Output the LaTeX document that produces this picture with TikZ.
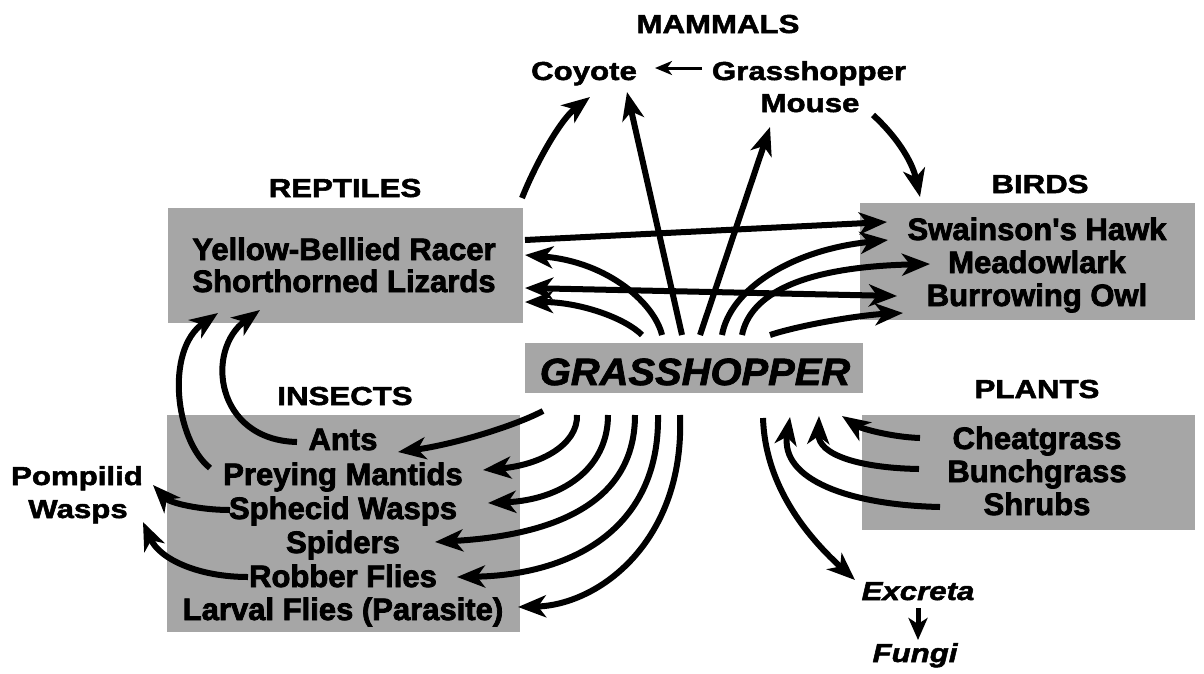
\documentclass[tikz,border=0pt]{standalone}
\usepackage{fontspec}
\setmainfont{Liberation Sans}
\newfontfamily\hdfont[FakeStretch=1.2,FakeBold=2]{Liberation Sans}
\newfontfamily\bxfont[FakeBold=2.5]{Liberation Sans}
\newfontfamily\ghfont[FakeStretch=1.05,FakeBold=2]{Liberation Sans}
\usetikzlibrary{arrows.meta}
\begin{document}
\begin{tikzpicture}[x=1pt,y=-1pt,
  hd/.style={font=\hdfont\bfseries\fontsize{26}{30}\selectfont, inner sep=0pt, anchor=base},
  hdi/.style={font=\hdfont\bfseries\itshape\fontsize{26}{30}\selectfont, inner sep=0pt, anchor=base},
  bx/.style={font=\bxfont\bfseries\fontsize{31}{34}\selectfont, inner sep=0pt, anchor=base},
  ghs/.style={font=\ghfont\bfseries\itshape\fontsize{38}{40}\selectfont, inner sep=0pt, anchor=base},
  shadebox/.style={fill=black!35, draw=none},
  tipbig/.tip={Stealth[length=28pt,width=22pt,inset=8pt]},
  arr/.style={line width=6pt, -tipbig},
  darr/.style={line width=6pt, tipbig-tipbig},
  sarr/.style={line width=3pt, -{Stealth[length=17pt,width=14pt,inset=5pt]}},
  varr/.style={line width=5pt, -{Stealth[length=22pt,width=19pt,inset=6pt]}},
]
\useasboundingbox (0,0) rectangle (1204,673);
\fill[white] (0,0) rectangle (1204,673);

% shaded boxes
\path[shadebox] (168,208) rectangle (523,323);
\path[shadebox] (860,203) rectangle (1195,320);
\path[shadebox] (525,343) rectangle (863,393);
\path[shadebox] (167,415) rectangle (520,632);
\path[shadebox] (862,415) rectangle (1195,530);

% headings and labels
\node[hd] (mammals) at (718,33) {MAMMALS};
\node[hd] (coyote) at (584,80) {Coyote};
\node[hd] (ghm1) at (809,80) {Grasshopper};
\node[hd] (ghm2) at (810,112) {Mouse};
\node[hd] (reptiles) at (345,197) {REPTILES};
\node[hd] (birds) at (1040,193) {BIRDS};
\node[hd] (insects) at (345,405) {INSECTS};
\node[hd] (plants) at (1037,398) {PLANTS};
\node[hd] (pomp1) at (77,485) {Pompilid};
\node[hd] (pomp2) at (78,518) {Wasps};
\node[hdi] (excreta) at (918,600) {Excreta};
\node[hdi] (fungi) at (915,662) {Fungi};

\node[bx] (racer) at (344,260) {Yellow-Bellied Racer};
\node[bx] (lizards) at (344,292) {Shorthorned Lizards};
\node[bx] (hawk) at (1037,240) {Swainson's Hawk};
\node[bx] (meadow) at (1037,273) {Meadowlark};
\node[bx] (owl) at (1037,306) {Burrowing Owl};
\node[ghs] (gh) at (695,385) {GRASSHOPPER};
\node[bx] (ants) at (343,450) {Ants};
\node[bx] (mantids) at (343,485) {Preying Mantids};
\node[bx] (sphecid) at (343,519) {Sphecid Wasps};
\node[bx] (spiders) at (343,553) {Spiders};
\node[bx] (robber) at (343,587) {Robber Flies};
\node[bx] (larval) at (343,620) {Larval Flies (Parasite)};
\node[bx] (cheat) at (1037,449) {Cheatgrass};
\node[bx] (bunch) at (1037,482) {Bunchgrass};
\node[bx] (shrubs) at (1037,515) {Shrubs};

% ports
\coordinate (gt1) at (642,335);
\coordinate (gt2) at (662,335);
\coordinate (gt3) at (682,335);
\coordinate (gt4) at (700,335);
\coordinate (gt5) at (722,335);
\coordinate (gt6) at (742,335);
\coordinate (gt7) at (770,335);
\coordinate (gb1) at (543,411);
\coordinate (gb2) at (577,415);
\coordinate (gb3) at (608,415);
\coordinate (gb4) at (635,415);
\coordinate (gb5) at (658,415);
\coordinate (gb6) at (680,415);
\coordinate (gb7) at (763,418);
\coordinate (gtipP1) at (842,416);
\coordinate (gtipP2) at (819,416);
\coordinate (gtipP3) at (790,417);

\coordinate (racerR) at (525,240);
\coordinate (racerIn) at (525,255);
\coordinate (lizR) at (525,288);
\coordinate (lizIn) at (525,302);
\coordinate (repTop) at (522,198);
\coordinate (hawkIn1) at (887,222);
\coordinate (hawkIn2) at (888,240);
\coordinate (hawkTop) at (920,197);
\coordinate (meadowIn) at (930,264);
\coordinate (owlIn1) at (897,296);
\coordinate (owlIn2) at (903,313);
\coordinate (coyIn1) at (590,97);
\coordinate (coyIn2) at (627,92);
\coordinate (coyR) at (655,68);
\coordinate (mouseL) at (702,68);
\coordinate (mouseIn) at (770,127);
\coordinate (mouseOut) at (873,115);

\coordinate (antsIn) at (398,452);
\coordinate (mantIn) at (483,470);
\coordinate (sphIn) at (488,503);
\coordinate (spiIn) at (435,542);
\coordinate (robIn) at (457,577);
\coordinate (larIn) at (518,607);
\coordinate (antsL) at (297,442);
\coordinate (mantL) at (210,468);
\coordinate (lizB1) at (218,313);
\coordinate (lizB2) at (260,310);
\coordinate (sphL) at (230,510);
\coordinate (robL) at (248,577);
\coordinate (pompIn1) at (153,485);
\coordinate (pompIn2) at (143,522);

\coordinate (cheatL) at (920,438);
\coordinate (bunchL) at (919,469);
\coordinate (shrubL) at (940,507);
\coordinate (excIn) at (855,580);
\coordinate (excB) at (918,608);
\coordinate (fungT) at (918,640);

% mammals
\draw[sarr] (mouseL) -- (coyR);
\draw[arr] (gt3) -- (coyIn2);
\draw[arr] (gt4) -- (mouseIn);
\draw[arr] (repTop) .. controls (535,165) and (560,120) .. (coyIn1);
\draw[arr] (mouseOut) .. controls (895,135) and (912,160) .. (hawkTop);

% reptiles & birds
\draw[arr] (racerR) -- (hawkIn1);
\draw[darr] (lizR) -- (owlIn1);
\draw[arr] (gt2) .. controls (655,305) and (610,262) .. (racerIn);
\draw[arr] (gt1) .. controls (625,318) and (580,302) .. (lizIn);
\draw[arr] (gt5) .. controls (730,290) and (790,250) .. (hawkIn2);
\draw[arr] (gt6) .. controls (750,295) and (800,267) .. (meadowIn);
\draw[arr] (gt7) .. controls (800,325) and (860,315) .. (owlIn2);

% insects
\draw[arr] (gb1) .. controls (510,428) and (450,445) .. (antsIn);
\draw[arr] (gb2) .. controls (578,445) and (540,465) .. (mantIn);
\draw[arr] (gb3) .. controls (608,470) and (560,500) .. (sphIn);
\draw[arr] (gb4) .. controls (635,500) and (560,535) .. (spiIn);
\draw[arr] (gb5) .. controls (660,530) and (570,575) .. (robIn);
\draw[arr] (gb6) .. controls (685,540) and (600,605) .. (larIn);
\draw[arr] (antsL) .. controls (215,440) and (205,350) .. (lizB2);
\draw[arr] (mantL) .. controls (175,440) and (165,350) .. (lizB1);
\draw[arr] (sphL) .. controls (200,510) and (170,503) .. (pompIn1);
\draw[arr] (robL) .. controls (200,577) and (160,560) .. (pompIn2);

% plants & excreta
\draw[arr] (cheatL) .. controls (890,437) and (860,428) .. (gtipP1);
\draw[arr] (bunchL) .. controls (860,468) and (818,455) .. (gtipP2);
\draw[arr] (shrubL) .. controls (850,505) and (780,480) .. (gtipP3);
\draw[arr] (gb7) .. controls (765,480) and (800,530) .. (excIn);
\draw[varr] (excB) -- (fungT);
\end{tikzpicture}
\end{document}
